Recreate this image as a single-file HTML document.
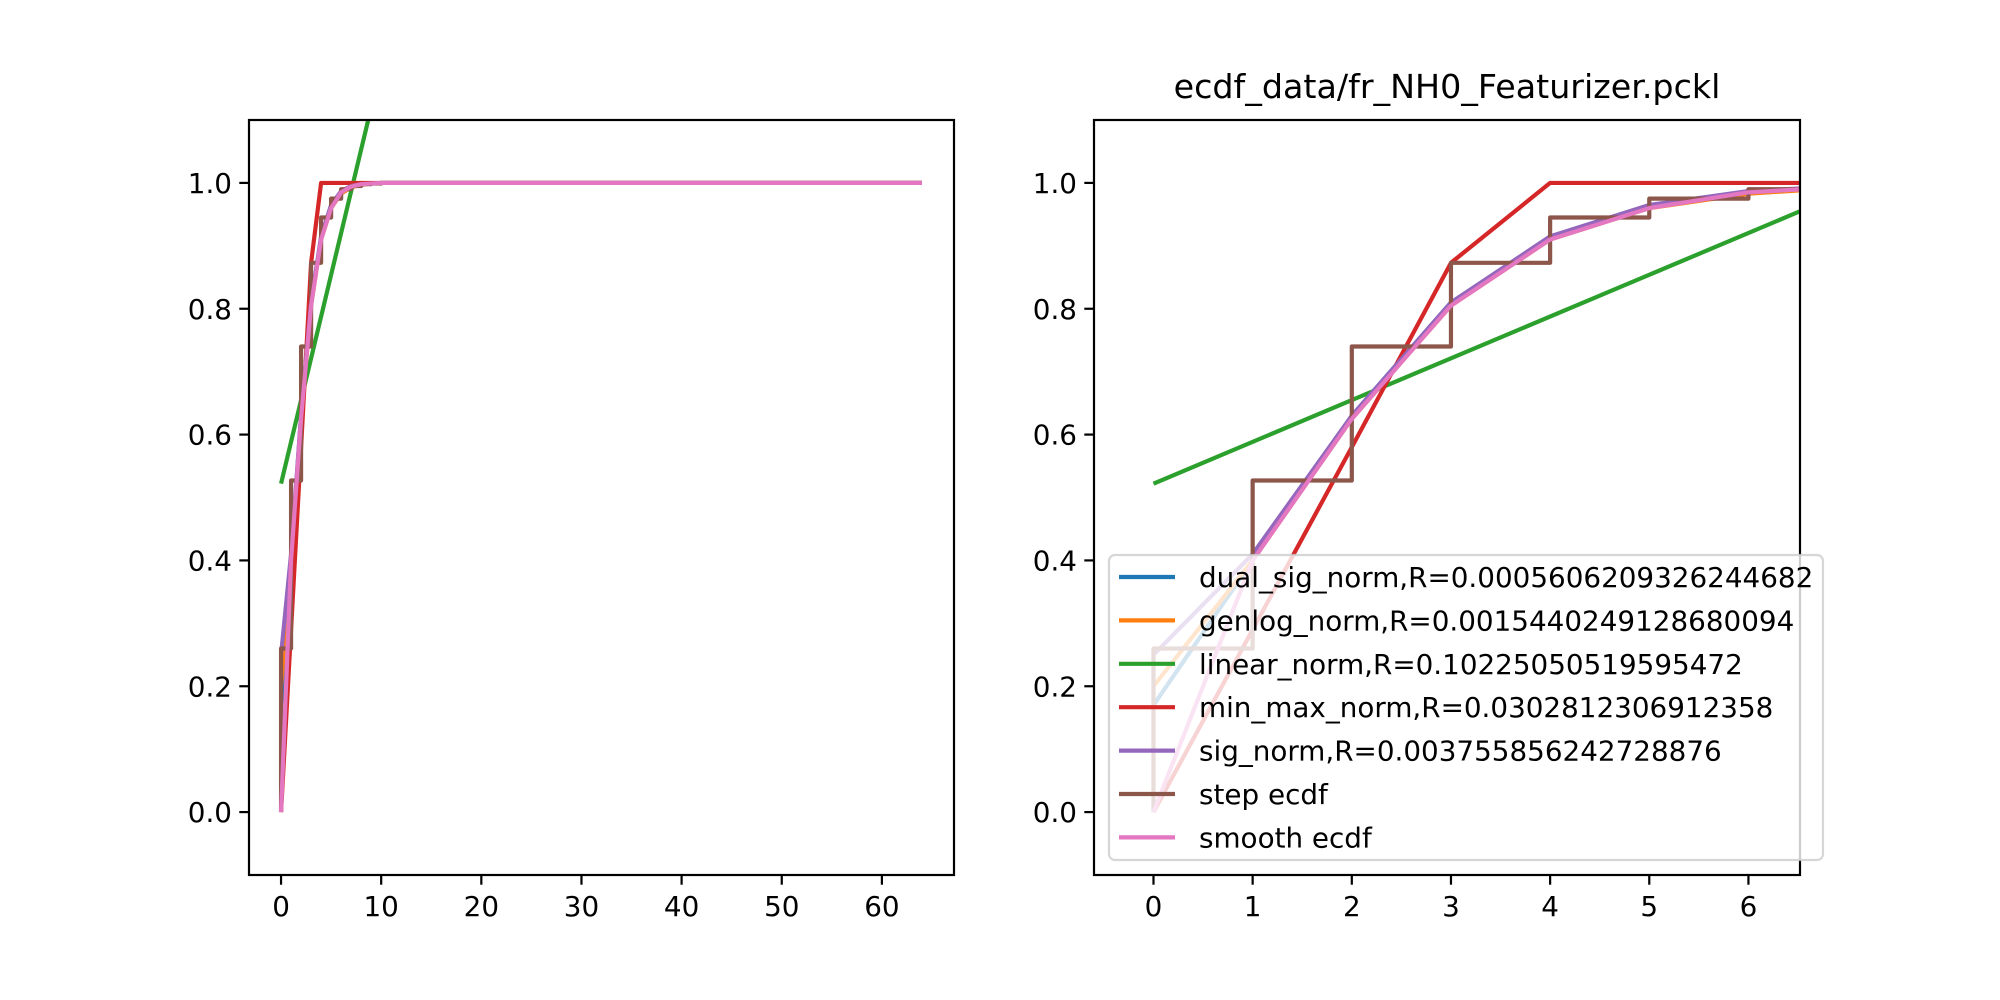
<!DOCTYPE html>
<html><head><meta charset="utf-8"><style>
html,body{margin:0;padding:0;background:#fff}
svg{display:block;font-family:"DejaVu Sans","Liberation Sans",sans-serif}
</style></head><body>
<svg id="fig" width="2000" height="1000" viewBox="0 0 2000 1000"></svg>
<script>
const NS="http://www.w3.org/2000/svg";
const xsSmall=[0,1,2,3,4,5,6,7,8,9,10,12,16,64];
const dualSig=[0.17,0.40,0.63,0.81,0.912,0.962,0.985,0.994,0.998,0.999,1,1,1,1];
const genlog=[0.20,0.40,0.625,0.805,0.91,0.96,0.983,0.993,0.997,0.999,1,1,1,1];
const sigNorm=[0.25,0.41,0.63,0.81,0.915,0.965,0.987,0.995,0.998,0.999,1,1,1,1];
const smoothEcdf=[0,0.40,0.625,0.805,0.91,0.96,0.985,0.994,0.998,0.999,1,1,1,1];
const minMaxX=[0,1,2,3,4,64];
const minMax=[0,0.29,0.58,0.873,1.0,1.0];
const linX=[0,64];
const linVals=[0.522,0.522+64*0.0664];
const stepX=[0,1,2,3,4,5,6,7,8,9,10,64];
const stepVals=[0.26,0.527,0.74,0.873,0.945,0.975,0.99,0.995,0.998,0.999,1,1];
const yTicks=[0,0.2,0.4,0.6,0.8,1.0];
const yTickLabels=["0.0","0.2","0.4","0.6","0.8","1.0"];
const xTicksL=[0,10,20,30,40,50,60];
const xTicksR=[0,1,2,3,4,5,6];
const legendLabels=["dual_sig_norm,R=0.0005606209326244682","genlog_norm,R=0.0015440249128680094","linear_norm,R=0.10225050519595472","min_max_norm,R=0.0302812306912358","sig_norm,R=0.003755856242728876","step ecdf","smooth ecdf"];
const colors=["#1f77b4","#ff7f0e","#2ca02c","#d62728","#9467bd","#8c564b","#e377c2"];

const svg=document.getElementById('fig');
function el(tag,attrs,parent){const e=document.createElementNS(NS,tag);for(const k in attrs)e.setAttribute(k,attrs[k]);(parent||svg).appendChild(e);return e;}

function panel(id,L,R,T,B,xmin,xmax,xticks){
  const ymin=-0.1,ymax=1.1;
  const sx=v=>L+(v-xmin)/(xmax-xmin)*(R-L);
  const sy=v=>B-(v-ymin)/(ymax-ymin)*(B-T);
  const g=el('g',{});
  
  
  const cp=el('clipPath',{id:'clip-'+id},g);
  el('rect',{x:L,y:T,width:R-L,height:B-T},cp);
  const plot=el('g',{'clip-path':'url(#clip-'+id+')'},g);
  function line(xs,ys,c,name){
    const d=xs.map((x,i)=>(i?'L':'M')+sx(x).toFixed(2)+' '+sy(ys[i]).toFixed(2)).join(' ');
    const p=el('path',{d:d,fill:'none',stroke:c,'stroke-width':4.2,'stroke-linejoin':'round'},plot);
    
    
  }
  line(xsSmall,dualSig,colors[0],'dual-sig-norm-line');
  line(xsSmall,genlog,colors[1],'genlog-norm-line');
  line(linX,linVals,colors[2],'linear-norm-line');
  line(minMaxX,minMax,colors[3],'min-max-norm-line');
  line(xsSmall,sigNorm,colors[4],'sig-norm-line');
  const sxs=[0],sys=[0];
  for(let i=0;i<stepX.length;i++){sxs.push(stepX[i]);sys.push(stepVals[i]);if(i+1<stepX.length){sxs.push(stepX[i+1]);sys.push(stepVals[i]);}}
  line(sxs,sys,colors[5],'step-ecdf-line');
  line(xsSmall,smoothEcdf,colors[6],'smooth-ecdf-line');
  const fr=el('rect',{x:L,y:T,width:R-L,height:B-T,fill:'none',stroke:'#000','stroke-width':2.2},g);
  
  
  yTicks.forEach((v,i)=>{
    el('line',{x1:L,x2:L-9.7,y1:sy(v),y2:sy(v),stroke:'#000','stroke-width':2.2},g);
    const t=el('text',{x:L-17,y:sy(v)+10,'text-anchor':'end','font-size':27.8},g);
    t.textContent=yTickLabels[i];
    
    
  });
  xticks.forEach(v=>{
    el('line',{x1:sx(v),x2:sx(v),y1:B,y2:B+9.7,stroke:'#000','stroke-width':2.2},g);
    const t=el('text',{x:sx(v),y:B+41,'text-anchor':'middle','font-size':27.8},g);
    t.textContent=String(v);
    
    
  });
  return g;
}
panel('left-axes',249,954,120,875,-3.2,67.2,xTicksL);
panel('right-axes',1094,1800,120,875,-0.6,6.52,xTicksR);

const title=el('text',{x:1447,y:98,'text-anchor':'middle','font-size':33.3});
title.textContent="ecdf_data/fr_NH0_Featurizer.pckl";



const lg=el('g',{});


el('rect',{x:1109,y:555,width:714,height:305,rx:6,fill:'#fff','fill-opacity':0.8,stroke:'#ccc','stroke-opacity':0.8,'stroke-width':2.2},lg);
legendLabels.forEach((lab,i)=>{
  const y=577+i*43.4;
  const e=el('g',{},lg);
  
  
  el('line',{x1:1119,x2:1175,y1:y,y2:y,stroke:colors[i],'stroke-width':4.2},e);
  const t=el('text',{x:1199,y:y+10,'font-size':27.8},e);
  t.textContent=lab;
});
</script>
</body></html>
